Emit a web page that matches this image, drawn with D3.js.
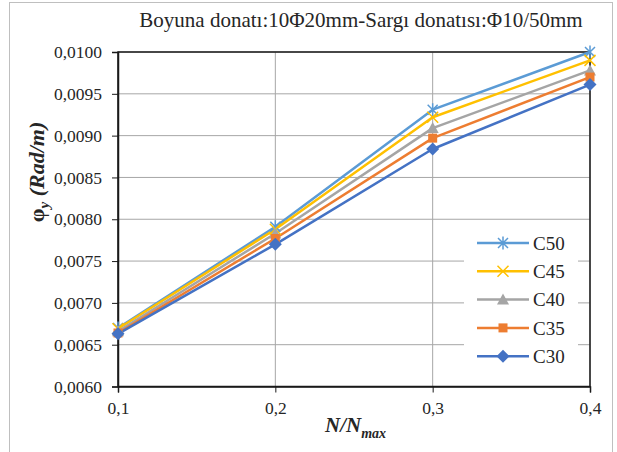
<!DOCTYPE html>
<html><head><meta charset="utf-8">
<script src="https://cdn.jsdelivr.net/npm/d3@7"></script>
<style>body{margin:0;background:#fff}svg{display:block}text{font-family:'Liberation Serif','Times New Roman',serif}</style>
</head><body>
<script>
const xValues = [0.1, 0.2, 0.3, 0.4];
const seriesNames = ["C50", "C45", "C40", "C35", "C30"];
const c50 = [0.00670, 0.00791, 0.00931, 0.01000];
const c45 = [0.00669, 0.00788, 0.00922, 0.00990];
const c40 = [0.00666, 0.00783, 0.00909, 0.00978];
const c35 = [0.00664, 0.00777, 0.00897, 0.00970];
const c30 = [0.00663, 0.00770, 0.00884, 0.00961];
const seriesValues = [c50, c45, c40, c35, c30];
const seriesColors = ["#5B9BD5", "#FFC000", "#A5A5A5", "#ED7D31", "#4472C4"];
const seriesMarkers = ["asterisk", "x", "triangle", "square", "diamond"];
const yTicks = [0.0060, 0.0065, 0.0070, 0.0075, 0.0080, 0.0085, 0.0090, 0.0095, 0.0100];
const xTicks = [0.1, 0.2, 0.3, 0.4];
const titleText = "Boyuna donatı:10Φ20mm-Sargı donatısı:Φ10/50mm";

const W = 617, H = 452;
const m = {left: 118, right: 590, top: 52, bottom: 386.5};
const svg = d3.select("body").append("svg").attr("width", W).attr("height", H);
const serif = "'Liberation Serif','Times New Roman',serif";

svg.append("rect").attr("x", 9.5).attr("y", 2.5).attr("width", 603).attr("height", 470)
  .attr("fill", "#fff").attr("stroke", "#bfbfbf").attr("stroke-width", 1);

const x = d3.scaleLinear().domain([0.1, 0.4]).range([m.left, m.right]);
const y = d3.scaleLinear().domain([0.0060, 0.0100]).range([m.bottom, m.top]);
const fmtY = v => d3.format(".4f")(v).replace(".", ",");
const fmtX = v => d3.format(".1f")(v).replace(".", ",");

// gridlines
const g = svg.append("g");
g.selectAll("line.hy").data(yTicks).join("line")
  .attr("x1", m.left).attr("x2", m.right).attr("y1", d => y(d)).attr("y2", d => y(d))
  .attr("stroke", "#a6a6a6").attr("stroke-width", 1);
g.selectAll("line.vx").data(xTicks).join("line")
  .attr("y1", m.top).attr("y2", m.bottom).attr("x1", d => x(d)).attr("x2", d => x(d))
  .attr("stroke", "#a6a6a6").attr("stroke-width", 1);

// frame
svg.append("rect").attr("x", m.left).attr("y", m.top).attr("width", m.right - m.left)
  .attr("height", m.bottom - m.top).attr("fill", "none").attr("stroke", "#1a1a1a").attr("stroke-width", 1.5);

// axes
const yAxis = svg.append("g").attr("transform", `translate(${m.left},0)`)
  .call(d3.axisLeft(y).tickValues(yTicks).tickFormat(fmtY).tickSize(6).tickPadding(10));
const xAxis = svg.append("g").attr("transform", `translate(0,${m.bottom})`)
  .call(d3.axisBottom(x).tickValues(xTicks).tickFormat(fmtX).tickSize(6).tickPadding(9));
[yAxis, xAxis].forEach(a => {
  a.attr("font-family", null).attr("font-size", null);
  a.select(".domain").attr("stroke", "#1a1a1a").attr("stroke-width", 1.5);
  a.selectAll(".tick line").attr("stroke", "#1a1a1a").attr("stroke-width", 1);
  a.selectAll("text").style("font-family", serif).style("font-size", "17.5px").attr("fill", "#262626");
});

// series
const line = d3.line().x((d, i) => x(xValues[i])).y(d => y(d));
function marker(sel, type, color) {
  if (type === "asterisk") {
    sel.append("path").attr("d", "M-5,-5L5,5M-5,5L5,-5M0,-6.5L0,6.5").attr("stroke", color).attr("stroke-width", 1.5).attr("fill", "none");
  } else if (type === "x") {
    sel.append("path").attr("d", "M-5.5,-5.5L5.5,5.5M-5.5,5.5L5.5,-5.5").attr("stroke", color).attr("stroke-width", 1.5).attr("fill", "none");
  } else if (type === "triangle") {
    sel.append("path").attr("d", "M0,-6L6,5L-6,5Z").attr("fill", color);
  } else if (type === "square") {
    sel.append("rect").attr("x", -4.5).attr("y", -4.5).attr("width", 9).attr("height", 9).attr("fill", color);
  } else if (type === "diamond") {
    sel.append("path").attr("d", "M0,-6.5L6.5,0L0,6.5L-6.5,0Z").attr("fill", color);
  }
}
seriesValues.forEach((vals, si) => {
  svg.append("path").datum(vals).attr("d", line).attr("fill", "none")
    .attr("stroke", seriesColors[si]).attr("stroke-width", 2.5).attr("stroke-linejoin", "round");
});
seriesValues.forEach((vals, si) => {
  vals.forEach((v, i) => {
    const gm = svg.append("g").attr("transform", `translate(${x(xValues[i])},${y(v)})`);
    marker(gm, seriesMarkers[si], seriesColors[si]);
  });
});

// legend
const lg = svg.append("g");
lg.append("rect").attr("x", 464).attr("y", 226).attr("width", 114).attr("height", 146).attr("fill", "#fff");
seriesNames.forEach((name, i) => {
  const ly = 243 + i * 28.3;
  const col = seriesColors[i];
  lg.append("line").attr("x1", 477).attr("x2", 529).attr("y1", ly).attr("y2", ly)
    .attr("stroke", col).attr("stroke-width", 2.5);
  const gm = lg.append("g").attr("transform", `translate(503,${ly})`);
  marker(gm, seriesMarkers[i], col);
  lg.append("text").attr("x", 533).attr("y", ly).attr("dy", "0.35em")
    .style("font-family", serif).style("font-size", "19px").attr("fill", "#262626").text(name);
});

// title
svg.append("text").attr("x", 361).attr("y", 27).attr("text-anchor", "middle")
  .style("font-family", serif).style("font-size", "21px").attr("fill", "#262626").text(titleText);

// x axis title
const xt = svg.append("text").attr("x", 325).attr("y", 432)
  .style("font-family", serif).style("font-size", "21px").attr("font-weight", "bold").attr("font-style", "italic").attr("fill", "#262626");
xt.append("tspan").text("N/N");
xt.append("tspan").style("font-size", "14px").attr("dy", 6).text("max");

// y axis title
const yt = svg.append("text").attr("transform", "translate(44,172) rotate(-90)").attr("text-anchor", "middle")
  .style("font-family", serif).style("font-size", "22px").attr("font-weight", "bold").attr("fill", "#262626");
yt.append("tspan").text("φ");
yt.append("tspan").style("font-size", "15px").attr("dy", 5).attr("font-style", "italic").text("y");
yt.append("tspan").attr("dy", -5).attr("font-style", "italic").text(" (Rad/m)");
</script>
</body></html>
